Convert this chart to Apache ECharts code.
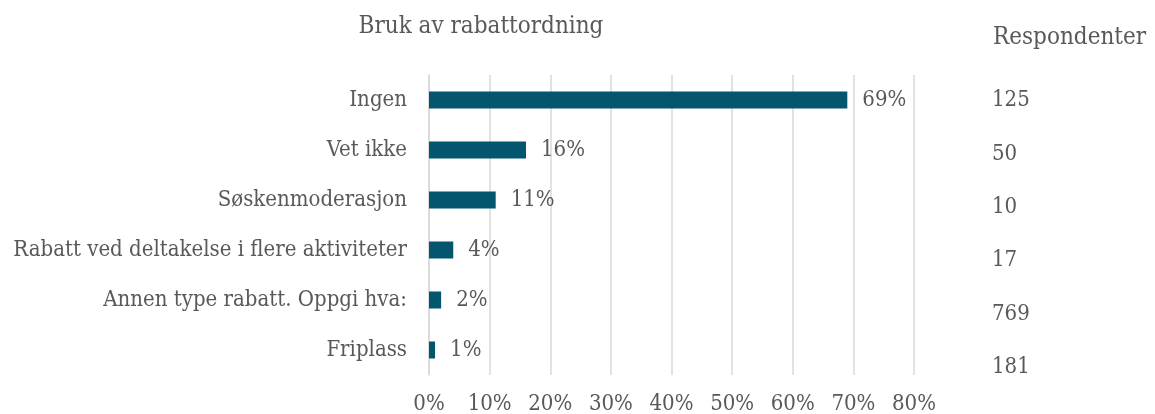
<!DOCTYPE html>
<html>
<head>
<meta charset="utf-8">
<script src="https://cdn.jsdelivr.net/npm/echarts@6/dist/echarts.min.js"></script>
<style>
	html, body { margin: 0; padding: 0; background: #fff; }
	#chart { width: 1155px; height: 414px; }
</style>
</head>
<body>
<div id="chart"></div>
<script>
var categories = ['Ingen', 'Vet ikke', 'Søskenmoderasjon', 'Rabatt ved deltakelse i flere aktiviteter', 'Annen type rabatt. Oppgi hva:', 'Friplass'];
var shares = [69, 16, 11, 4, 2, 1];
var respondents = ['125', '50', '10', '17', '769', '181'];

var font = '"DejaVu Serif Condensed", "DejaVu Serif"';
var grey = '#595959';

var myChart = echarts.init(document.getElementById('chart'));

var option = {
	backgroundColor: '#fff',
	animation: false,
	title: [{
		text: 'Bruk av rabattordning',
		left: 481,
		top: 15,
		padding: 0,
		textAlign: 'center',
		textStyle: { fontFamily: font, fontSize: 24, fontWeight: 'normal', color: grey }
	}, {
		text: 'Respondenter',
		left: 993,
		top: 26,
		padding: 0,
		textStyle: { fontFamily: font, fontSize: 24, fontWeight: 'normal', color: grey }
	}],
	grid: [{
		left: 429,
		width: 485,
		top: 75,
		height: 300,
		outerBoundsMode: 'none'
	}, {
		left: 900,
		right: 171,
		top: 74,
		height: 320,
		outerBoundsMode: 'none'
	}],
	xAxis: [{
		gridIndex: 0,
		type: 'value',
		min: 0,
		max: 80,
		interval: 10,
		axisLine: { show: false },
		axisTick: { show: false },
		axisLabel: {
			formatter: '{value}%',
			margin: 18,
			fontFamily: font,
			fontSize: 22,
			color: grey
		},
		splitLine: { lineStyle: { color: '#d9d9d9', width: 1.5 } }
	}, {
		gridIndex: 1,
		type: 'value',
		min: 0,
		max: 1,
		show: false
	}],
	yAxis: [{
		gridIndex: 0,
		type: 'category',
		inverse: true,
		data: categories,
		axisLine: { lineStyle: { color: '#d9d9d9', width: 1.5 } },
		axisTick: { length: 6, lineStyle: { color: '#d9d9d9', width: 1.5 } },
		axisLabel: {
			margin: 22,
			fontFamily: font,
			fontSize: 22,
			color: grey
		}
	}, {
		gridIndex: 1,
		type: 'category',
		inverse: true,
		position: 'right',
		data: respondents,
		axisLine: { show: false },
		axisTick: { show: false },
		axisLabel: {
			margin: 8,
			align: 'left',
			fontFamily: font,
			fontSize: 22,
			color: grey
		}
	}],
	series: [{
		type: 'bar',
		xAxisIndex: 0,
		yAxisIndex: 0,
		data: shares,
		barWidth: 17,
		itemStyle: { color: '#03566e' },
		label: {
			show: true,
			position: 'right',
			distance: 15,
			formatter: '{c}%',
			fontFamily: font,
			fontSize: 22,
			color: grey
		}
	}]
};

myChart.setOption(option);

window.addEventListener('resize', function() {
	myChart.resize();
});
</script>
</body>
</html>
